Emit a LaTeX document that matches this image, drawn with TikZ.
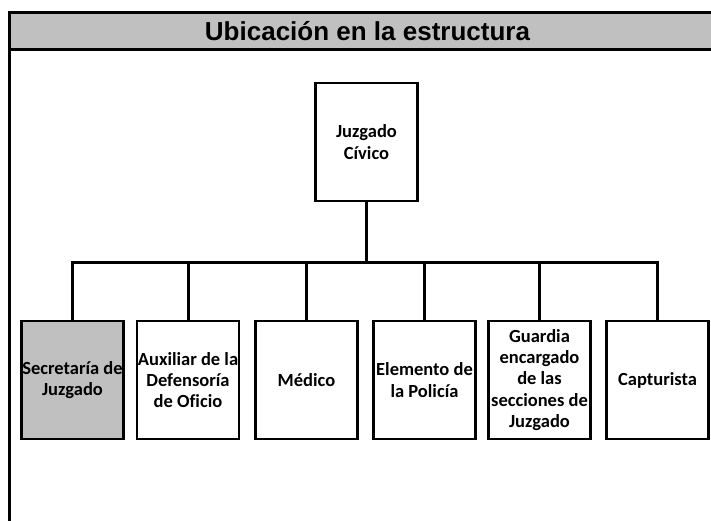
\documentclass[tikz,border=0pt]{standalone}
\usepackage{fontspec}
\setmainfont{Carlito}[Ligatures=CommonOff]
\newfontfamily\titlefont{Liberation Sans}
\definecolor{hdr}{HTML}{C0C0C0}
\begin{document}
\begin{tikzpicture}[x=1pt,y=-1pt,
  box/.style={draw=black, line width=2.5pt, fill=white, minimum width=102pt, minimum height=118pt,
    inner sep=0pt, align=center, font=\fontsize{18.5}{21.3}\selectfont\bfseries},
  conn/.style={line width=3pt},
  frameline/.style={line width=3pt}]
\useasboundingbox (0,0) rectangle (711,521);
\clip (0,0) rectangle (711,521);
% header frame
\fill[hdr] (9.5,12.5) rectangle (730,49.5);
\draw[frameline] (730,12.5) -- (9.5,12.5) -- (9.5,530);
\draw[frameline] (9.5,49.5) -- (730,49.5);
\node[font=\titlefont\fontsize{26}{28}\selectfont\bfseries] (title) at (367.5,31) {Ubicación en la estructura};
% boxes
\node[box] (top) at (366.5,142) {Juzgado\\Cívico};
\node[box, fill=hdr] (c1) at (72.5,380) {Secretaría de\\Juzgado};
\node[box] (c2) at (188,380) {Auxiliar de la\\Defensoría\\de Oficio};
\node[box] (c3) at (306.5,380) {Médico};
\node[box] (c4) at (424.5,380) {Elemento de\\la Policía};
\node[box] (c5) at (539.5,380) {Guardia\\encargado\\de las\\secciones de\\Juzgado};
\node[box] (c6) at (657.5,380) {Capturista};
% connectors
\coordinate (bus) at (366.5,262);
\draw[conn] (top.south) -- (bus);
\draw[conn] (c1.north) |- (bus);
\draw[conn] (c6.north) |- (bus);
\draw[conn] (c2.north) -- (c2.north |- bus);
\draw[conn] (c3.north) -- (c3.north |- bus);
\draw[conn] (c4.north) -- (c4.north |- bus);
\draw[conn] (c5.north) -- (c5.north |- bus);
\end{tikzpicture}
\end{document}
